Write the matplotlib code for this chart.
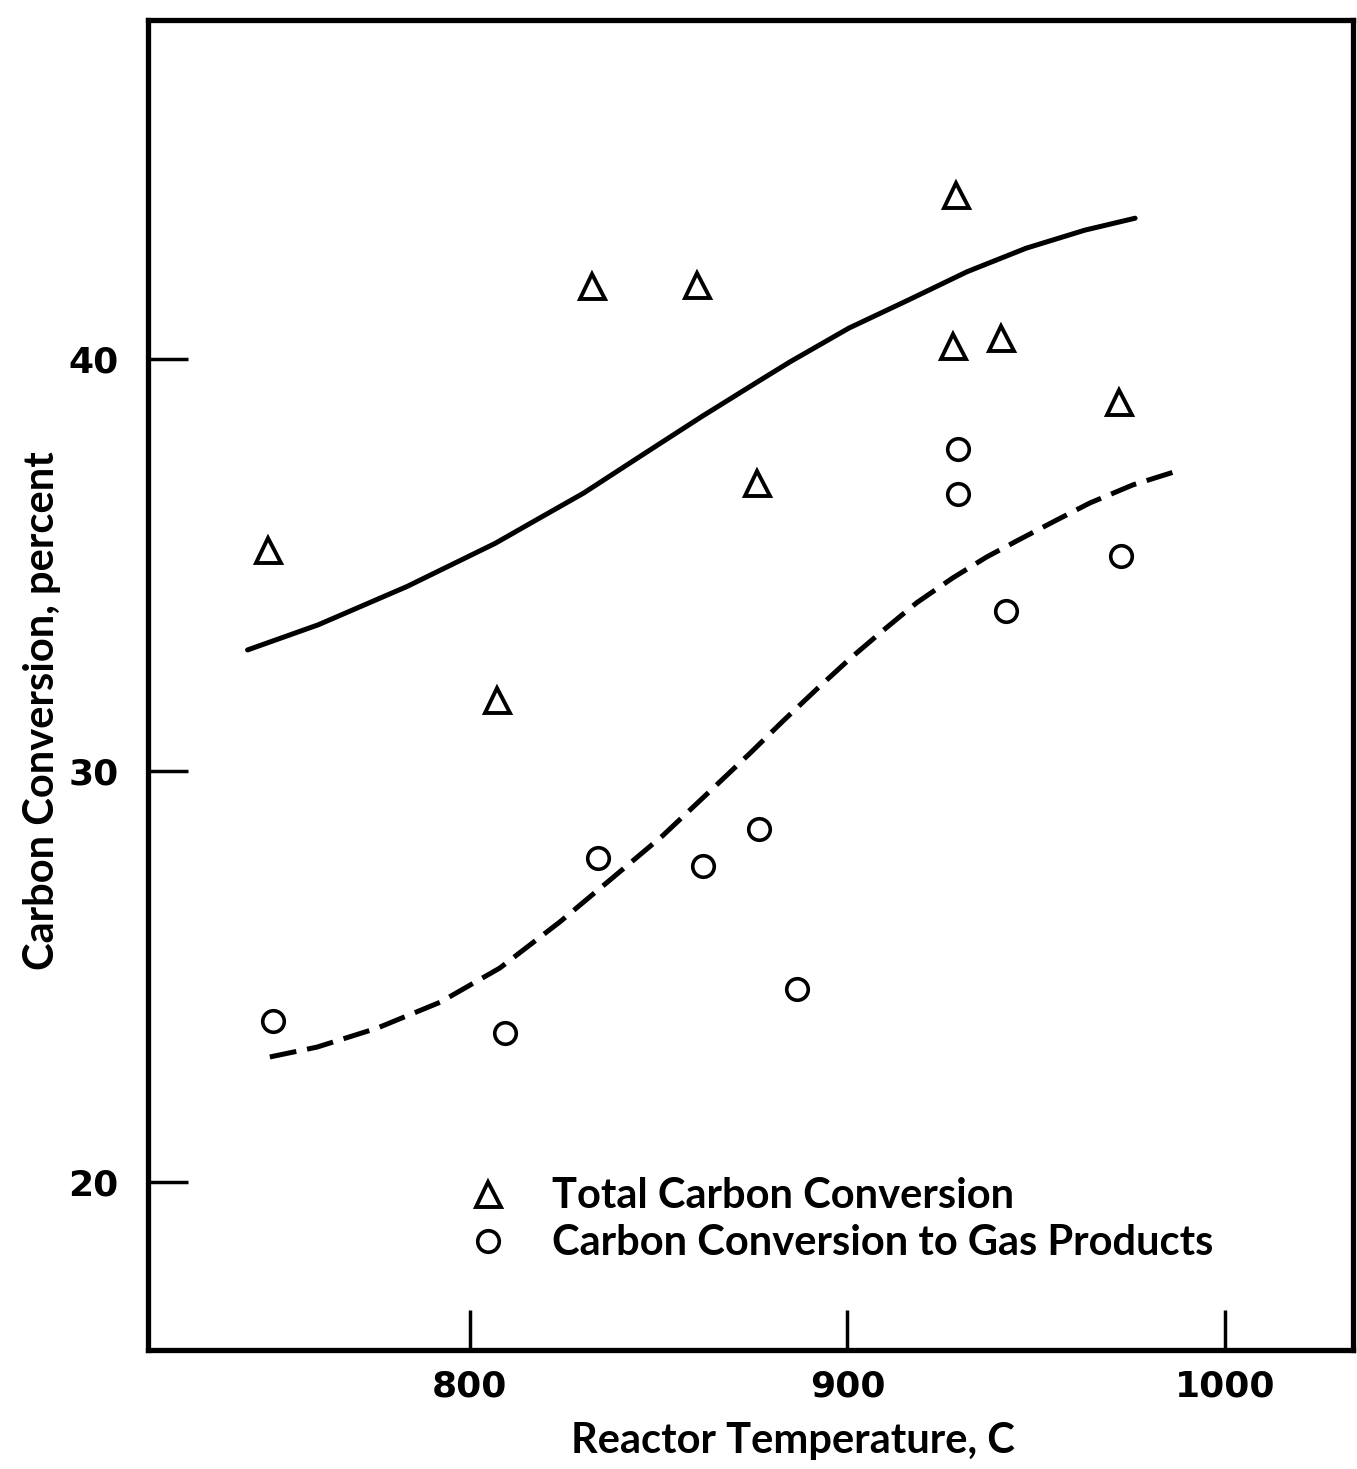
import numpy as np
import matplotlib
matplotlib.use("Agg")
import matplotlib.pyplot as plt

plt.rcParams['font.family'] = ['Lato', 'DejaVu Sans']
plt.rcParams['font.weight'] = 'bold'

# total carbon conversion (triangles)
tot_temp = [746.5, 807.2, 832.3, 860.1, 876.0, 928.7, 927.9, 940.7, 971.9]
tot_conv = [35.36, 31.71, 41.77, 41.80, 36.99, 43.99, 40.32, 40.51, 38.96]

# carbon conversion to gas products (circles)
gas_temp = [747.8, 809.3, 833.9, 861.7, 876.6, 886.6, 929.3, 929.3, 942.0, 972.5]
gas_conv = [23.91, 23.62, 27.87, 27.68, 28.58, 24.69, 37.81, 36.72, 33.88, 35.21]

# hand drawn trend curves
tot_fit_t = [741.1, 759.8, 783.3, 806.7, 817.6, 830.1, 845.7, 861.4, 877.0, 884.8,
             900.4, 916.1, 931.7, 947.3, 962.9, 976.2]
tot_fit_c = [32.93, 33.54, 34.47, 35.52, 36.09, 36.74, 37.67, 38.60, 39.49, 39.93,
             40.75, 41.43, 42.12, 42.69, 43.13, 43.42]
gas_fit_t = [747.0, 759.5, 775.4, 792.1, 807.9, 823.8, 837.1, 851.1, 863.6, 874.2,
             882.9, 891.9, 900.7, 909.4, 918.4, 927.9, 936.9, 945.7, 955.5, 964.2,
             975.6, 988.1]
gas_fit_c = [23.04, 23.28, 23.74, 24.37, 25.20, 26.32, 27.34, 28.42, 29.50, 30.42,
             31.20, 31.98, 32.72, 33.40, 34.08, 34.68, 35.19, 35.62, 36.09, 36.50,
             36.94, 37.30]

x_ticks = [800, 900, 1000]
y_ticks = [20, 30, 40]

fig = plt.figure(figsize=(13.57, 14.69), dpi=100)
ax = fig.add_axes([0.109, 0.081, 0.888, 0.9055])

ax.plot(tot_fit_t, tot_fit_c, color='black', lw=3.6, solid_capstyle='round',
        solid_joinstyle='round')
ax.plot(gas_fit_t, gas_fit_c, color='black', lw=3.6, dashes=(5.4, 2.2),
        dash_capstyle='butt', dash_joinstyle='round')

ax.plot(tot_temp, tot_conv, ls='none', marker='^', ms=18, mfc='white',
        mec='black', mew=2.8, label='Total Carbon Conversion')
ax.plot(gas_temp, gas_conv, ls='none', marker='o', ms=15.5, mfc='white',
        mec='black', mew=2.6, label='Carbon Conversion to Gas Products')

ax.set_xlim(714.7, 1033.9)
ax.set_ylim(15.92, 48.24)
ax.set_xticks(x_ticks)
ax.set_yticks(y_ticks)
ax.tick_params(direction='in', length=29, width=2.5)
ax.tick_params(axis='x', pad=14)
ax.tick_params(axis='y', pad=21)
for lab in ax.get_xticklabels() + ax.get_yticklabels():
    lab.set_family('DejaVu Sans')
    lab.set_fontweight('bold')
    lab.set_fontsize(26)

for sp in ax.spines.values():
    sp.set_linewidth(3.8)

ax.set_xlabel('Reactor Temperature, C', fontsize=30, fontweight='bold')
ax.set_ylabel('Carbon Conversion, percent', fontsize=30, fontweight='bold')
ax.xaxis.set_label_coords(0.535, -0.054)
ax.yaxis.set_label_coords(-0.072, 0.481)

ax.legend(loc='upper left', bbox_to_anchor=(0.2563, 0.130), frameon=False,
          fontsize=30, handlelength=1.5, handletextpad=0.78, borderpad=0,
          borderaxespad=0, labelspacing=0.22, markerscale=1.0)

fig.savefig('out.png', dpi=100)
